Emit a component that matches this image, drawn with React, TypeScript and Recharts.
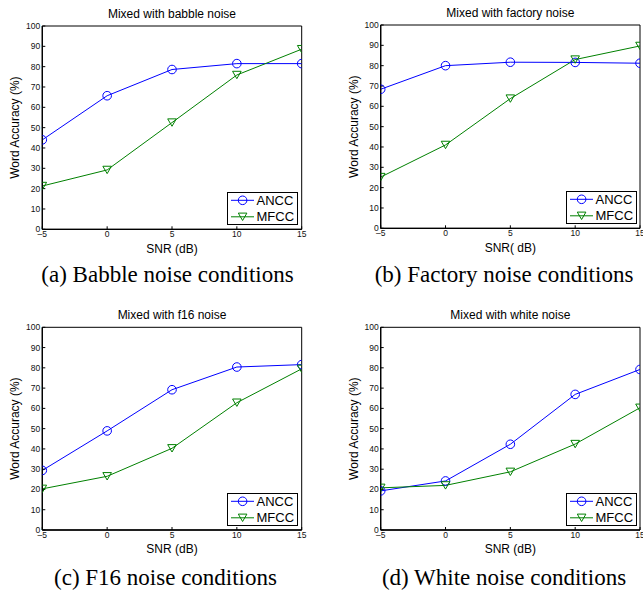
import React from 'react';
import { LineChart, Line, XAxis, YAxis, Legend, ReferenceArea } from 'recharts';

const snr = [-5, 0, 5, 10, 15];
const xTickLabels = ['–5', '0', '5', '10', '15'];
const yTicks = [0, 10, 20, 30, 40, 50, 60, 70, 80, 90, 100];
const seriesNames = ['ANCC', 'MFCC'];

const babbleAncc = [44, 65.7, 78.6, 81.5, 81.5];
const babbleMfcc = [21.3, 29.2, 52.5, 75.9, 88.6];
const factoryAncc = [68.4, 80, 81.7, 81.6, 81.2];
const factoryMfcc = [25.2, 41, 63.8, 83, 89.7];
const f16Ancc = [29.4, 48.9, 69.2, 80.4, 81.6];
const f16Mfcc = [20.3, 26.5, 40.3, 62.8, 79.5];
const whiteAncc = [19.3, 24.2, 42.3, 66.9, 79.2];
const whiteMfcc = [20.8, 22, 28.7, 42.4, 60.3];

const titles = ['Mixed with babble noise', 'Mixed with factory noise', 'Mixed with f16 noise', 'Mixed with white noise'];
const xLabels = ['SNR (dB)', 'SNR( dB)', 'SNR (dB)', 'SNR (dB)'];
const yLabel = 'Word Accuracy (%)';
const captions = ['(a) Babble noise conditions', '(b) Factory noise conditions', '(c) F16 noise conditions', '(d) White noise conditions'];

const BLUE = '#0000ff';
const GREEN = '#008000';
const SANS = '"Liberation Sans", Arial, Helvetica, sans-serif';
const SERIF = '"Liberation Serif", "Times New Roman", serif';

const circleMarker = (cx: number, cy: number, key?: any) => (
  <circle key={key} cx={cx} cy={cy} r={4.3} fill="none" stroke={BLUE} strokeWidth={1} />
);
const triMarker = (cx: number, cy: number, key?: any) => (
  <path
    key={key}
    d={`M${cx - 4.3},${cy - 3.7}L${cx + 4.3},${cy - 3.7}L${cx},${cy + 3.7}Z`}
    fill="none"
    stroke={GREEN}
    strokeWidth={1}
  />
);

type Margin = { top: number; right: number; bottom: number; left: number };
type PanelProps = {
  left: number;
  top: number;
  width: number;
  height: number;
  margin: Margin;
  ancc: number[];
  mfcc: number[];
  title: string;
  xLabel: string;
  caption: string;
  captionX: number;
  captionY: number;
};

const Y_AXIS_W = 30;
const X_AXIS_H = 20;

function LegendBox(props: any) {
  const payload = (props && props.payload) || [];
  const items = seriesNames.map((n, i) => {
    const p = payload.find((q: any) => q.value === n);
    return { name: n, color: p ? p.color : i === 0 ? BLUE : GREEN };
  });
  return (
    <svg width={71} height={33} style={{ display: 'block' }}>
      <rect x={0.5} y={0.5} width={70} height={32} fill="#fff" stroke="#000" strokeWidth={1} />
      {items.map((it, i) => {
        const cy = 8.3 + i * 16.5;
        return (
          <g key={it.name}>
            <line x1={4} x2={27} y1={cy} y2={cy} stroke={it.color} strokeWidth={1} />
            {i === 0 ? circleMarker(15.6, cy) : triMarker(15.6, cy)}
            <text x={29.5} y={cy + 4.6} fontSize={13} fontFamily={SANS} fill="#000">
              {it.name}
            </text>
          </g>
        );
      })}
    </svg>
  );
}

function Panel(p: PanelProps) {
  const data = snr.map((s, i) => ({ snr: s, ANCC: p.ancc[i], MFCC: p.mfcc[i] }));
  const plotLeft = p.margin.left + Y_AXIS_W;
  const plotRight = p.width - p.margin.right;
  const plotTop = p.margin.top;
  const plotBottom = p.height - p.margin.bottom - X_AXIS_H;
  const cx = (plotLeft + plotRight) / 2;
  const cy = (plotTop + plotBottom) / 2;
  const tickStyle = { fontSize: 8.5, fill: '#111', fontFamily: SANS };
  return (
    <div style={{ position: 'absolute', left: p.left, top: p.top, width: p.width, height: p.height }}>
      <LineChart width={p.width} height={p.height} data={data} margin={p.margin} style={{ overflow: 'visible' }}>
        <ReferenceArea x1={-5} x2={15} y1={0} y2={100} fill="none" stroke="#000" strokeWidth={1} ifOverflow="visible" />
        <XAxis
          dataKey="snr"
          type="number"
          domain={[-5, 15]}
          ticks={snr}
          interval={0}
          height={X_AXIS_H}
          allowDataOverflow
          tickFormatter={(v: number) => xTickLabels[snr.indexOf(v)] ?? String(v)}
          tick={tickStyle}
          tickSize={-3}
          tickMargin={5}
          axisLine={{ stroke: '#000', strokeWidth: 1.3 }}
          tickLine={{ stroke: '#000' }}
        />
        <XAxis
          xAxisId="top"
          orientation="top"
          dataKey="snr"
          type="number"
          domain={[-5, 15]}
          ticks={snr}
          interval={0}
          height={0}
          allowDataOverflow
          tick={false}
          tickSize={-3}
          axisLine={{ stroke: '#000', strokeWidth: 1 }}
          tickLine={{ stroke: '#000' }}
        />
        <YAxis
          type="number"
          domain={[0, 100]}
          ticks={yTicks}
          interval={0}
          width={Y_AXIS_W}
          allowDataOverflow
          tick={tickStyle}
          tickSize={-3}
          tickMargin={5}
          axisLine={{ stroke: '#000', strokeWidth: 1.3 }}
          tickLine={{ stroke: '#000' }}
        />
        <YAxis
          yAxisId="right"
          orientation="right"
          type="number"
          domain={[0, 100]}
          ticks={yTicks}
          interval={0}
          width={0}
          allowDataOverflow
          tick={false}
          tickSize={-3}
          axisLine={{ stroke: '#000', strokeWidth: 1 }}
          tickLine={{ stroke: '#000' }}
        />
        <Line
          dataKey="ANCC"
          name="ANCC"
          stroke={BLUE}
          strokeWidth={1}
          isAnimationActive={false}
          dot={(d: any) => circleMarker(d.cx, d.cy, `a${d.index}`)}
          activeDot={false}
        />
        <Line
          dataKey="MFCC"
          name="MFCC"
          stroke={GREEN}
          strokeWidth={1}
          isAnimationActive={false}
          dot={(d: any) => triMarker(d.cx, d.cy, `m${d.index}`)}
          activeDot={false}
        />
        <Legend
          layout="horizontal"
          verticalAlign="middle"
          align="center"
          content={(lp: any) => <LegendBox {...lp} />}
          wrapperStyle={{
            position: 'absolute',
            left: plotRight - 3.5 - 71,
            top: plotBottom - 37.5,
            width: 71,
            height: 33,
            margin: 0,
            padding: 0,
          }}
        />
        <text x={cx} y={plotTop - 8.5} textAnchor="middle" fontSize={12} fontFamily={SANS} fill="#000">
          {p.title}
        </text>
        <text
          x={plotLeft - 27}
          y={cy}
          textAnchor="middle"
          dominantBaseline="central"
          transform={`rotate(-90 ${plotLeft - 27} ${cy})`}
          fontSize={12}
          fontFamily={SANS}
          fill="#000"
        >
          {yLabel}
        </text>
        <text x={cx} y={plotBottom + 23.3} textAnchor="middle" fontSize={12} fontFamily={SANS} fill="#000">
          {p.xLabel}
        </text>
        <text x={p.captionX} y={p.captionY} textAnchor="middle" fontSize={23} fontFamily={SERIF} fill="#000">
          {p.caption}
        </text>
      </LineChart>
    </div>
  );
}

export default function App() {
  return (
    <div style={{ position: 'absolute', left: 0, top: 0, width: 643, height: 590, background: '#fff', overflow: 'hidden' }}>
      <Panel
        left={0}
        top={0}
        width={320}
        height={290}
        margin={{ top: 26, right: 18.3, bottom: 40.7, left: 12.3 }}
        ancc={babbleAncc}
        mfcc={babbleMfcc}
        title={titles[0]}
        xLabel={xLabels[0]}
        caption={captions[0]}
        captionX={167.5}
        captionY={282}
      />
      <Panel
        left={320}
        top={0}
        width={323}
        height={290}
        margin={{ top: 25, right: 3, bottom: 41.7, left: 30.7 }}
        ancc={factoryAncc}
        mfcc={factoryMfcc}
        title={titles[1]}
        xLabel={xLabels[1]}
        caption={captions[1]}
        captionX={184}
        captionY={281.5}
      />
      <Panel
        left={0}
        top={290}
        width={320}
        height={300}
        margin={{ top: 37.3, right: 18.3, bottom: 40, left: 12.3 }}
        ancc={f16Ancc}
        mfcc={f16Mfcc}
        title={titles[2]}
        xLabel={xLabels[2]}
        caption={captions[2]}
        captionX={165.5}
        captionY={295}
      />
      <Panel
        left={320}
        top={290}
        width={323}
        height={300}
        margin={{ top: 37.3, right: 3, bottom: 40, left: 30.7 }}
        ancc={whiteAncc}
        mfcc={whiteMfcc}
        title={titles[3]}
        xLabel={xLabels[3]}
        caption={captions[3]}
        captionX={184}
        captionY={295}
      />
    </div>
  );
}
